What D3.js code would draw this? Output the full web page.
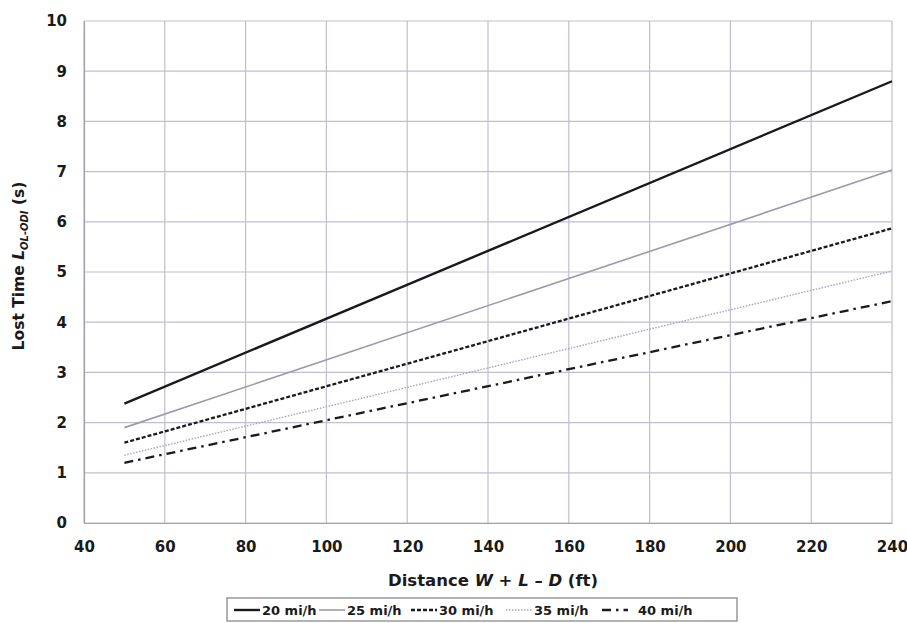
<!DOCTYPE html>
<html>
<head>
<meta charset="utf-8">
<script src="https://cdn.jsdelivr.net/npm/d3@7"></script>
<style>
  html, body { margin: 0; padding: 0; background: #fff; }
  svg { display: block; }
  text { font-family: "DejaVu Sans", Verdana, sans-serif; }
</style>
</head>
<body>
<svg id="chart" width="907" height="623"></svg>
<script>
// Distance (ft) at the two ends of each line
const distances = [50, 240];

// Lost time (s) for each approach speed
const speeds = ["20 mi/h", "25 mi/h", "30 mi/h", "35 mi/h", "40 mi/h"];
const lost20 = [2.38, 8.80];
const lost25 = [1.90, 7.03];
const lost30 = [1.60, 5.87];
const lost35 = [1.35, 5.02];
const lost40 = [1.20, 4.42];

const xTicks = [40, 60, 80, 100, 120, 140, 160, 180, 200, 220, 240];
const yTicks = [0, 1, 2, 3, 4, 5, 6, 7, 8, 9, 10];

const seriesValues = [lost20, lost25, lost30, lost35, lost40];

// Line styles per speed
const styles = [
  { stroke: "#1a1a1a", width: 2.4, dash: null },
  { stroke: "#9a9aa8", width: 1.6, dash: null },
  { stroke: "#1a1a1a", width: 2.3, dash: "4,2" },
  { stroke: "#a4a4c0", width: 1.4, dash: "1.5,1.5" },
  { stroke: "#1a1a1a", width: 2.3, dash: "9,5,2.5,5" }
];

const svg = d3.select("#chart");
const plot = { left: 84, right: 892, top: 21, bottom: 523 };

const x = d3.scaleLinear().domain([40, 240]).range([plot.left, plot.right]);
const y = d3.scaleLinear().domain([0, 10]).range([plot.bottom, plot.top]);

// Grid
const grid = svg.append("g");
grid.selectAll("line.v").data(xTicks).join("line")
  .attr("x1", d => x(d)).attr("x2", d => x(d))
  .attr("y1", plot.top).attr("y2", plot.bottom)
  .attr("stroke", "#bfbfcf").attr("stroke-width", 1.2);
grid.selectAll("line.h").data(yTicks).join("line")
  .attr("x1", plot.left).attr("x2", plot.right)
  .attr("y1", d => y(d)).attr("y2", d => y(d))
  .attr("stroke", "#bfbfcf").attr("stroke-width", 1.2);

// Axes (labels only, ticks hidden)
const xAxis = svg.append("g")
  .attr("transform", `translate(0,${plot.bottom})`)
  .call(d3.axisBottom(x).tickValues(xTicks).tickSize(0).tickPadding(18));
const yAxis = svg.append("g")
  .attr("transform", `translate(${plot.left},0)`)
  .call(d3.axisLeft(y).tickValues(yTicks).tickSize(0).tickPadding(17));
[xAxis, yAxis].forEach(a => {
  a.select(".domain").attr("stroke", "#a0a0b0").attr("stroke-width", 1.2);
  a.selectAll("text")
    .attr("font-family", "'DejaVu Sans', Verdana, sans-serif")
    .attr("font-size", 15).attr("font-weight", "bold").attr("fill", "#1a1a1a");
});

// Lines
const line = d3.line().x((d, i) => x(distances[i])).y(d => y(d));
svg.append("g").selectAll("path").data(seriesValues).join("path")
  .attr("d", d => line(d))
  .attr("fill", "none")
  .attr("stroke", (d, i) => styles[i].stroke)
  .attr("stroke-width", (d, i) => styles[i].width)
  .attr("stroke-dasharray", (d, i) => styles[i].dash);

// Axis titles
const yt = svg.append("text")
  .attr("transform", "translate(24,266) rotate(-90)")
  .attr("text-anchor", "middle")
  .attr("font-size", 15.5).attr("font-weight", "bold").attr("fill", "#1a1a1a");
yt.append("tspan").text("Lost Time ");
yt.append("tspan").attr("font-style", "italic").text("L");
yt.append("tspan").attr("font-style", "italic").attr("font-size", 10).attr("dy", 4).text("OL-ODI");
yt.append("tspan").attr("dy", -4).text(" (s)");

const xt = svg.append("text")
  .attr("x", 493).attr("y", 586)
  .attr("text-anchor", "middle")
  .attr("font-size", 16.5).attr("font-weight", "bold").attr("fill", "#1a1a1a");
xt.append("tspan").text("Distance ");
xt.append("tspan").attr("font-style", "italic").text("W");
xt.append("tspan").text(" + ");
xt.append("tspan").attr("font-style", "italic").text("L");
xt.append("tspan").text(" \u2013 ");
xt.append("tspan").attr("font-style", "italic").text("D");
xt.append("tspan").text(" (ft)");

// Legend
const legend = svg.append("g");
legend.append("rect")
  .attr("x", 227).attr("y", 598).attr("width", 510).attr("height", 23)
  .attr("fill", "#fff").attr("stroke", "#8a8a8a").attr("stroke-width", 1.3);
const legendX = [234, 319, 411, 506, 602];
const item = legend.selectAll("g.item").data(speeds).join("g")
  .attr("transform", (d, i) => `translate(${legendX[i]},610)`);
item.append("line")
  .attr("x1", 0).attr("x2", 26).attr("y1", 0).attr("y2", 0)
  .attr("stroke", (d, i) => styles[i].stroke)
  .attr("stroke-width", (d, i) => styles[i].width)
  .attr("stroke-dasharray", (d, i) => styles[i].dash);
item.append("text")
  .attr("x", (d, i) => i === 4 ? 36 : 28).attr("y", 5)
  .attr("font-size", 13).attr("font-weight", "bold").attr("fill", "#1a1a1a")
  .text(d => d);
</script>
</body>
</html>
